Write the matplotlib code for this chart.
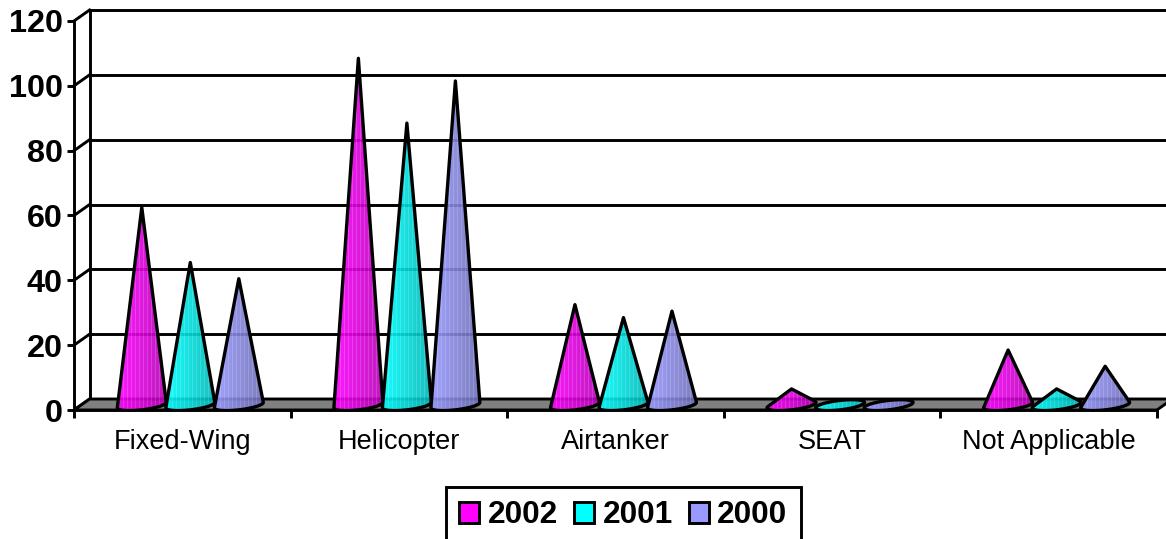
import numpy as np
import matplotlib as mpl
mpl.use('Agg')
import matplotlib.pyplot as plt
from matplotlib.patches import Patch, Polygon

plt.rcParams['font.family'] = ['Liberation Sans', 'DejaVu Sans']

categories = ['Fixed-Wing', 'Helicopter', 'Airtanker', 'SEAT', 'Not Applicable']
years = ['2002', '2001', '2000']
s2002 = [61, 107, 31, 5, 17]
s2001 = [44, 87, 27, 0, 5]
s2000 = [39, 100, 29, 0, 12]
yticks = [0, 20, 40, 60, 80, 100, 120]

series = [s2002, s2001, s2000]
base_colors = ['#ff00ff', '#00ffff', '#9999ff']

# depth of the fake 3d box, in data units
dx = 0.072
dy = 3.39
# cone base
base_y = 1.5
half_w = 0.113
half_h = 1.45
tilt = 0.85
offsets = [-0.187, 0.037, 0.261]
line = 2.1


def hull(points):
    # monotone chain, the cone outline is apex + base ellipse hull
    pts = sorted(map(tuple, points))
    def half(seq):
        out = []
        for p in seq:
            while len(out) > 1:
                a, b = out[-2], out[-1]
                if (b[0]-a[0])*(p[1]-a[1]) - (b[1]-a[1])*(p[0]-a[0]) > 0:
                    break
                out.pop()
            out.append(p)
        return out[:-1]
    return half(pts) + half(pts[::-1])


def shade(rgb):
    # left to right darkening with the thin light stripes of the original
    n = 60
    rgb = np.array(rgb)
    g = np.linspace(1.0, 0.72, n)
    img = np.zeros((1, n, 3))
    for i in range(n):
        c = rgb * g[i]
        if i % 5 == 2:
            c = c + (1 - c) * 0.16
        img[0, i] = c
    return img


fig = plt.figure(figsize=(11.66, 5.39), dpi=100)
ax = fig.add_axes([74/1166, (539-410)/539, 1092/1166, 400/539])

for s in ['top', 'right']:
    ax.spines[s].set_visible(False)
ax.spines['left'].set_bounds(0, 120)
ax.spines['bottom'].set_bounds(0, 5)
ax.spines['left'].set_linewidth(line)
ax.spines['bottom'].set_linewidth(line)

# back wall and grid
n = len(categories)
for v in yticks:
    ax.plot([dx, n+dx], [v+dy, v+dy], color='black', lw=line, zorder=1, clip_on=False)
    ax.plot([0, dx], [v, v+dy], color='black', lw=line, zorder=1, clip_on=False)
ax.plot([dx, dx], [dy, 120+dy], color='black', lw=line, zorder=1, clip_on=False)

# floor
ax.add_patch(Polygon([(0, 0), (dx, dy), (n+dx, dy), (n, 0)], closed=True,
                     facecolor='#808080', edgecolor='black', lw=line, zorder=1.5))

# cones
t = np.linspace(0, 2*np.pi, 90, endpoint=False)
for j, vals in enumerate(series):
    rgb = mpl.colors.to_rgb(base_colors[j])
    for i, v in enumerate(vals):
        cx = i + 0.5 + offsets[j]
        ell = np.column_stack([cx + half_w*np.cos(t),
                               base_y + half_h*np.sin(t) + tilt*np.cos(t)])
        outline = hull(np.vstack([ell, [[cx, base_y + v]]]))
        im = ax.imshow(shade(rgb), extent=[cx-half_w, cx+half_w, -2, 125],
                       aspect='auto', interpolation='nearest', alpha=0.9,
                       zorder=3+j*0.1)
        clip = Polygon(outline, closed=True, facecolor='none',
                       edgecolor='black', lw=2.4, joinstyle='round',
                       zorder=3.05+j*0.1)
        ax.add_patch(clip)
        im.set_clip_path(clip)

ax.set_xlim(0, 5.042)
ax.set_ylim(0, 123.39)

# ticks
ax.set_yticks(yticks)
ax.set_yticklabels([str(v) for v in yticks], fontsize=23.3, fontweight='bold')
ax.tick_params(axis='y', length=5, width=line, pad=3)
ax.set_xticks(np.arange(n+1))
ax.set_xticklabels([''] * (n+1))
ax.tick_params(axis='x', which='major', length=6, width=line)
ax.set_xticks(np.arange(n)+0.5, minor=True)
ax.set_xticklabels(categories, minor=True, fontsize=19.5)
ax.tick_params(axis='x', which='minor', length=0, pad=14)

# legend, the bottom of the box falls off the picture
handles = [Patch(facecolor=c, edgecolor='black', lw=line) for c in base_colors]
leg = fig.legend(handles, years, ncol=3, loc='upper left',
                 bbox_to_anchor=(446/1166, (539-487)/539), borderaxespad=0,
                 prop={'size': 22.8, 'weight': 'bold'},
                 handlelength=0.62, handleheight=0.66, handletextpad=0.27,
                 columnspacing=0.52, borderpad=0.42, fancybox=False,
                 framealpha=1, edgecolor='black')
leg.get_frame().set_linewidth(line)

plt.savefig('out.png', dpi=100)
